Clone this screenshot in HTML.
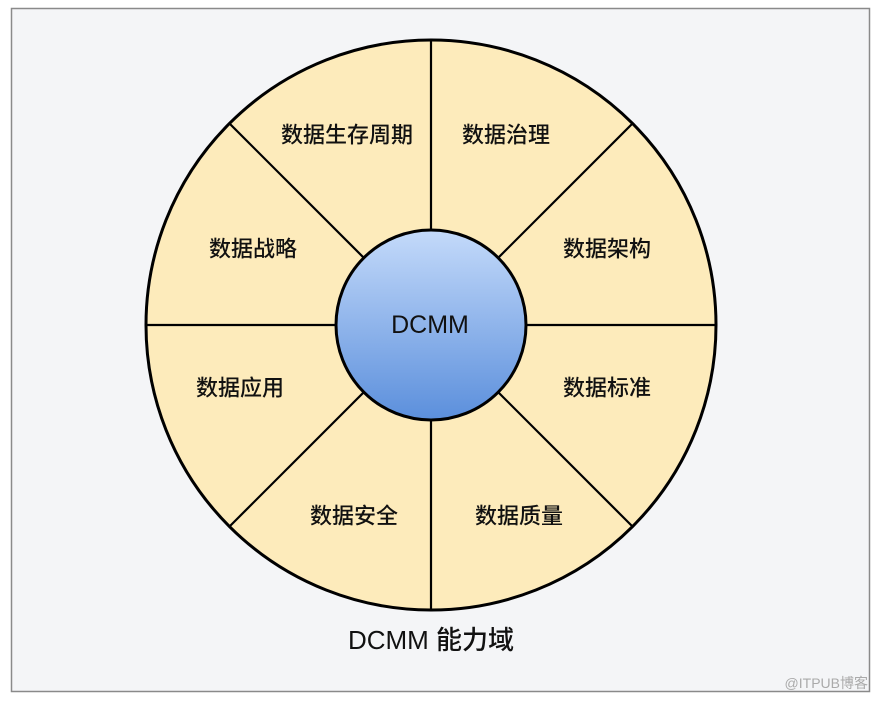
<!DOCTYPE html>
<html><head><meta charset="utf-8"><style>
html,body{margin:0;padding:0;background:#fff;}
body{width:878px;height:700px;overflow:hidden;}
</style></head><body>
<svg width="878" height="700" xmlns="http://www.w3.org/2000/svg" font-family="'Liberation Sans','Noto Sans CJK SC',sans-serif">
<defs><linearGradient id="g" x1="0" y1="0" x2="0" y2="1"><stop offset="0" stop-color="#c4dafa"/><stop offset="1" stop-color="#5b8fdc"/></linearGradient></defs>
<rect x="11.5" y="8.5" width="858" height="683" fill="#f4f5f7" stroke="#8a8a8a" stroke-width="1.5"/>
<circle cx="431" cy="325" r="285" fill="#fdebbb" stroke="#000" stroke-width="3"/>
<g stroke="#000" stroke-width="2.2">
<line x1="431" y1="40" x2="431" y2="610"/>
<line x1="146" y1="325" x2="716" y2="325"/>
<line x1="229.5" y1="123.5" x2="632.5" y2="526.5"/>
<line x1="632.5" y1="123.5" x2="229.5" y2="526.5"/>
</g>
<circle cx="431" cy="325" r="95" fill="url(#g)" stroke="#000" stroke-width="3"/>
<g font-size="22" font-weight="500" fill="#111" text-anchor="middle" dominant-baseline="central">
<text x="430" y="325" font-size="25">DCMM</text>
<text x="347" y="135">数据生存周期</text>
<text x="506" y="135">数据治理</text>
<text x="607" y="249">数据架构</text>
<text x="607" y="388">数据标准</text>
<text x="519" y="516">数据质量</text>
<text x="354" y="516">数据安全</text>
<text x="240" y="388">数据应用</text>
<text x="253" y="249">数据战略</text>
<text x="431" y="640" font-size="26">DCMM 能力域</text>
</g>
<text x="868" y="688" font-size="14" fill="#aaa" text-anchor="end">@ITPUB博客</text>
</svg>
</body></html>
